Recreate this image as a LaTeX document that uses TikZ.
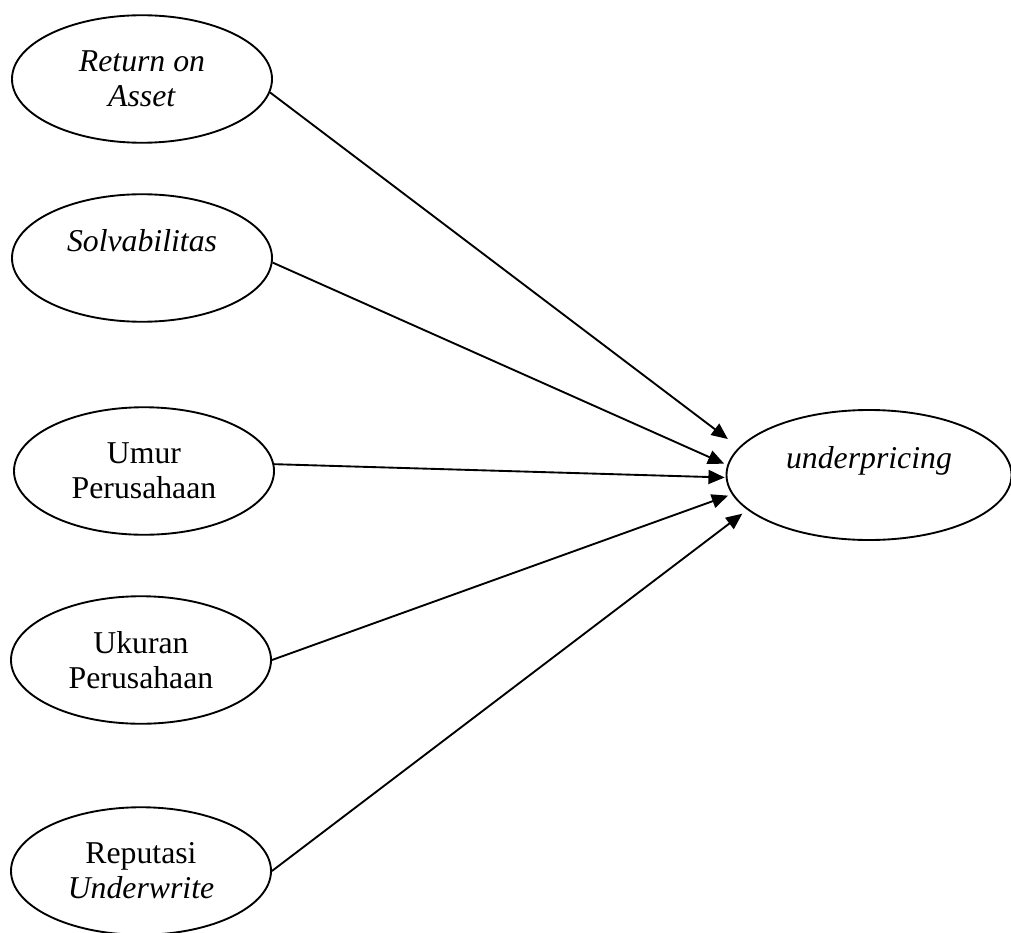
\documentclass[tikz,border=0pt]{standalone}
\usepackage{fontspec}
\setmainfont{Liberation Serif}
\usetikzlibrary{arrows.meta,shapes.geometric}

\begin{document}
\begin{tikzpicture}[x=.4pt,y=-.4pt,line width=.75pt,
  var/.style={draw,ellipse,minimum width=104pt,minimum height=51pt,align=center,
    font=\fontsize{12.7}{14}\selectfont},
  arr/.style={-{Triangle[length=6.5pt,width=5.6pt]}}]
  \useasboundingbox (0,0) rectangle (1011,932);
  % variabel independen
  \node[var] (roa)      at (142,79)  {\textit{Return on}\\\textit{Asset}};
  \node[var] (solv)     at (142,258) {\textit{Solvabilitas}\\~};
  \node[var] (umur)     at (144,471) {Umur\\Perusahaan};
  \node[var] (ukuran)   at (141,660) {Ukuran\\Perusahaan};
  \node[var] (reputasi) at (141,871) {Reputasi\\\textit{Underwrite}};
  % variabel dependen
  \node[var,minimum width=114pt,minimum height=52pt] (under) at (869,475) {\textit{underpricing}\\~};
  % panah
  \draw[arr,shorten >=5.5pt] (roa.-6) -- (under.168);
  \draw[arr,shorten >=1.3pt] (solv.-2) -- (under.176);
  \draw[arr,shorten >=.4pt] (umur.3.5) -- (under.181);
  \draw[arr,shorten >=1.6pt] (ukuran.east) -- (under.188);
  \draw[arr,shorten >=2.5pt] (reputasi.east) -- (under.196);
\end{tikzpicture}
\end{document}
